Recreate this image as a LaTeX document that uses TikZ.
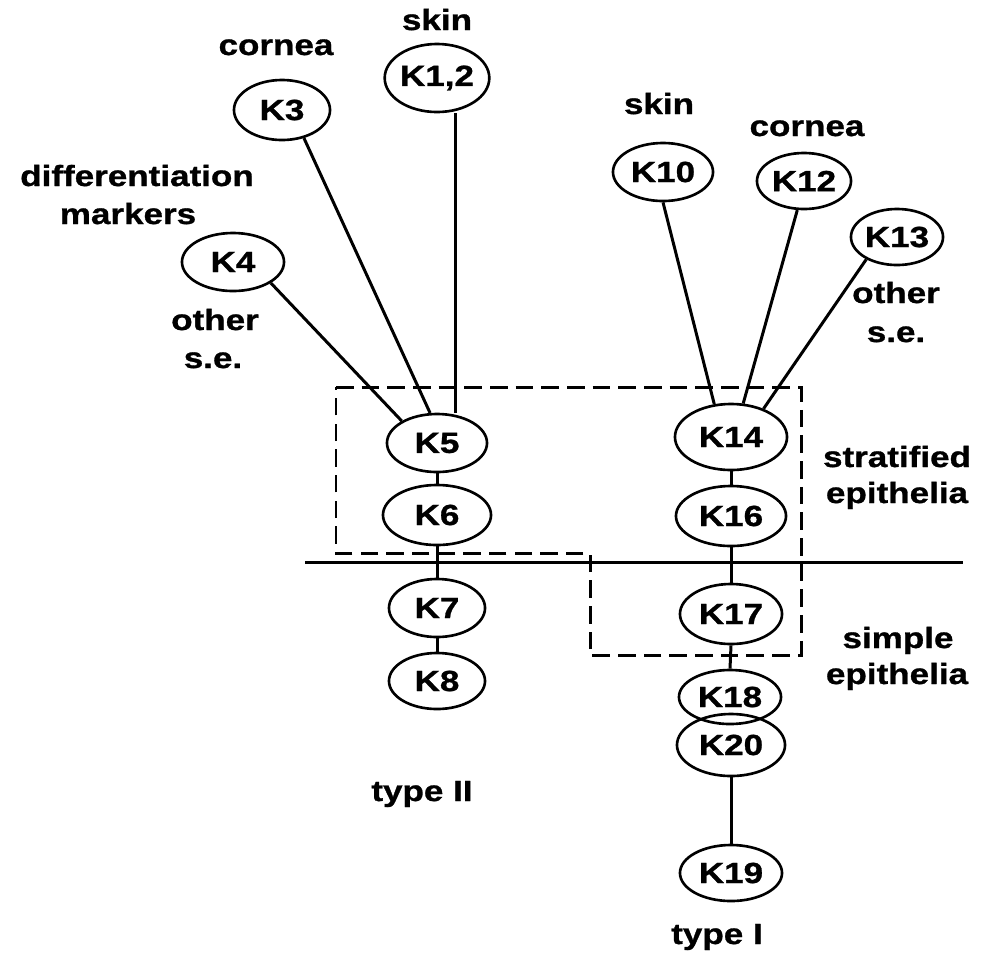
\documentclass[tikz,border=0pt]{standalone}
\usepackage{fontspec}
\newfontfamily\dfont{Liberation Sans}[FakeStretch=1.2,FakeBold=1]
\usetikzlibrary{shapes.geometric}
\begin{document}
\begin{tikzpicture}[x=0.01cm,y=-0.01cm,
 kn/.style={draw,ellipse,line width=0.75pt,inner sep=0pt,font=\dfont\bfseries\fontsize{8.3}{9}\selectfont},
 lbl/.style={font=\dfont\bfseries\fontsize{8.3}{9}\selectfont,inner sep=0pt,anchor=base},
 conn/.style={line width=0.85pt},
 dbox/.style={line width=0.85pt,dash pattern=on 5pt off 2.3pt}]
\useasboundingbox (0,0) rectangle (997,960);
% keratin nodes
\node[kn,minimum width=1cm,minimum height=0.68cm] (k1) at (437,78) {K1,2};
\node[kn,minimum width=0.96cm,minimum height=0.6cm] (k3) at (282,110) {K3};
\node[kn,minimum width=1.02cm,minimum height=0.58cm] (k4) at (233,262) {K4};
\node[kn,minimum width=1cm,minimum height=0.58cm] (k5) at (437,443) {K5};
\node[kn,minimum width=1.08cm,minimum height=0.6cm] (k6) at (437,515) {K6};
\node[kn,minimum width=0.96cm,minimum height=0.58cm] (k7) at (437,608) {K7};
\node[kn,minimum width=0.96cm,minimum height=0.56cm] (k8) at (437,681) {K8};
\node[kn,minimum width=1cm,minimum height=0.58cm] (k10) at (663,172) {K10};
\node[kn,minimum width=0.94cm,minimum height=0.56cm] (k12) at (804,181) {K12};
\node[kn,minimum width=0.92cm,minimum height=0.56cm] (k13) at (897,237) {K13};
\node[kn,minimum width=1.12cm,minimum height=0.66cm] (k14) at (731,437) {K14};
\node[kn,minimum width=1.1cm,minimum height=0.6cm] (k16) at (731,516) {K16};
\node[kn,minimum width=1.02cm,minimum height=0.6cm] (k17) at (731,614) {K17};
\node[kn,minimum width=1.02cm,minimum height=0.54cm] (k18) at (730,697) {K18};
\node[kn,minimum width=1.08cm,minimum height=0.62cm] (k20) at (731,745) {K20};
\node[kn,minimum width=1.02cm,minimum height=0.56cm] (k19) at (731,873) {K19};
% labels
\node[lbl] (l1) at (437,30) {skin};
\node[lbl] (l2) at (276,55) {cornea};
\node[lbl] (l3) at (137,186) {differentiation};
\node[lbl] (l4) at (128,224) {markers};
\node[lbl] (l5) at (215,330) {other};
\node[lbl] (l6) at (213,368) {s.e.};
\node[lbl] (l7) at (659,114) {skin};
\node[lbl] (l8) at (807,136) {cornea};
\node[lbl] (l9) at (896,303) {other};
\node[lbl] (l10) at (896,342) {s.e.};
\node[lbl] (l11) at (897,467) {stratified};
\node[lbl] (l12) at (897,503) {epithelia};
\node[lbl] (l13) at (898,648) {simple};
\node[lbl] (l14) at (897,684) {epithelia};
\node[lbl] (l15) at (422,801) {type II};
\node[lbl] (l16) at (717,944) {type I};
% connectors
\coordinate (v1) at (455,0);
\draw[conn] (k1.south -| v1) -- (k5.north -| v1);
\draw[conn] (k3.-52) -- (k5.103);
\draw[conn] (k4.-29) -- (k5.148);
\draw[conn] (k5.south) -- (k6.north);
\draw[conn] (k6.south) -- (k7.north);
\draw[conn] (k7.south) -- (k8.north);
\draw[conn] (k10.south) -- (k14.117);
\draw[conn] (k12.-103) -- (k14.70);
\draw[conn] (k13.-144) -- (k14.41);
\draw[conn] (k14.south) -- (k16.north);
\draw[conn] (k16.south) -- (k17.north);
\draw[conn] (k17.south) -- (k18.north);
\draw[conn] (k20.south) -- (k19.north);
% divider
\coordinate (hl) at (305,562);
\coordinate (hr) at (963,562);
\draw[conn] (hl) -- (hr);
% dashed region
\draw[dbox] (336,387) -- (801,387) -- (801,655) -- (590,655) -- (590,553) -- (336,553) -- cycle;
\end{tikzpicture}
\end{document}
